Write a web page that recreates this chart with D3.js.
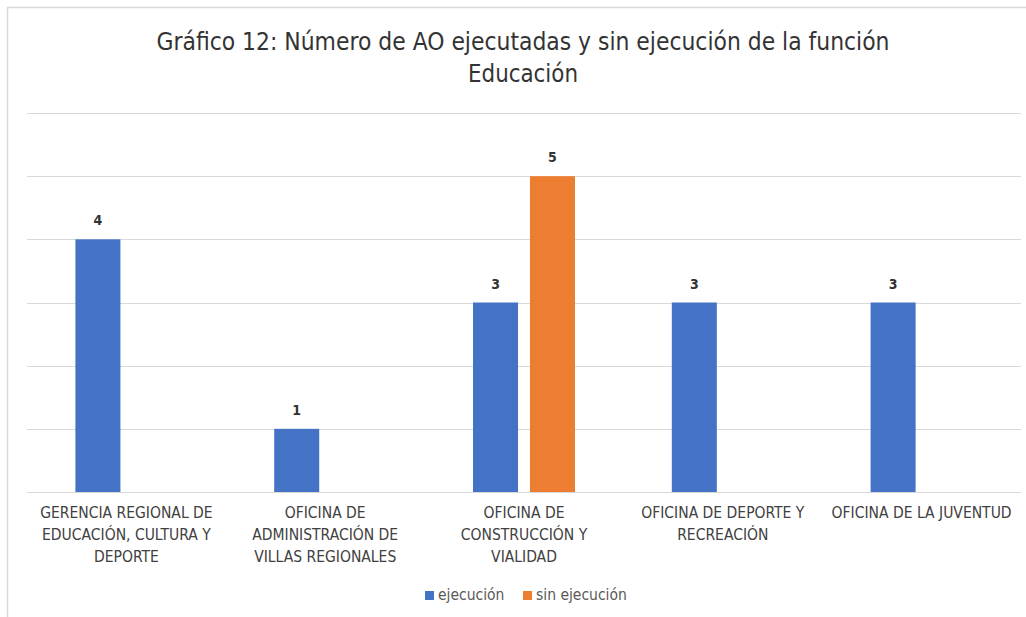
<!DOCTYPE html>
<html>
<head>
<meta charset="utf-8">
<script src="https://cdn.jsdelivr.net/npm/d3@7"></script>
<style>
  body { margin: 0; background: #fff; }
  svg { display: block; }
</style>
</head>
<body>
<div id="chart"></div>
<script>
// Data
const categories = [
  ["GERENCIA REGIONAL DE", "EDUCACIÓN, CULTURA Y", "DEPORTE"],
  ["OFICINA DE", "ADMINISTRACIÓN DE", "VILLAS REGIONALES"],
  ["OFICINA DE", "CONSTRUCCIÓN Y", "VIALIDAD"],
  ["OFICINA DE DEPORTE Y", "RECREACIÓN"],
  ["OFICINA DE LA JUVENTUD"]
];
const ejecucion = [4, 1, 3, 3, 3];
const sinEjecucion = [null, null, 5, null, null];
const seriesNames = ["ejecución", "sin ejecución"];
const colors = ["#4472C4", "#ED7D31"];
const titleLines = ["Gráfico 12: Número de AO ejecutadas y sin ejecución de la función", "Educación"];

const width = 1026, height = 617;
const margin = { top: 113, right: 5, bottom: 125, left: 27 };
const font = "'Liberation Sans Narrow', 'DejaVu Sans Condensed', Calibri, sans-serif";

const svg = d3.select("#chart").append("svg")
  .attr("width", width)
  .attr("height", height);

// chart frame (only left/top edge visible in the picture)
svg.append("path")
  .attr("d", `M7.5,${height} V7.5 H${width}`)
  .attr("fill", "none")
  .attr("stroke", "#d9d9d9")
  .attr("stroke-width", 1.5);

// Title
svg.append("g")
  .attr("text-anchor", "middle")
  .style("font-family", font)
  .style("font-size", "24px")
  .attr("fill", "#333")
  .selectAll("text")
  .data(titleLines)
  .join("text")
    .attr("x", 523)
    .attr("y", (d, i) => 50 + i * 32)
    .attr("textLength", (d, i) => i === 0 ? 733 : 110)
    .attr("lengthAdjust", "spacingAndGlyphs")
    .text(d => d);

const x0 = d3.scaleBand()
  .domain(d3.range(categories.length))
  .range([margin.left, width - margin.right])
  .paddingInner(0)
  .paddingOuter(0);

const x1 = d3.scaleBand()
  .domain([0, 1])
  .range([x0.bandwidth() / 2 - 51, x0.bandwidth() / 2 + 51])
  .paddingInner(0.21);

const y = d3.scaleLinear()
  .domain([0, 6])
  .range([height - margin.bottom, margin.top]);

// Gridlines
svg.append("g")
  .selectAll("line")
  .data(y.ticks(6))
  .join("line")
    .attr("x1", margin.left)
    .attr("x2", width - margin.right)
    .attr("y1", d => Math.round(y(d)) + 0.5)
    .attr("y2", d => Math.round(y(d)) + 0.5)
    .attr("stroke", "#d9d9d9")
    .attr("stroke-width", 1.2);

// Bars
const barData = [];
categories.forEach((c, i) => {
  [ejecucion[i], sinEjecucion[i]].forEach((v, s) => {
    if (v != null) barData.push({ cat: i, s, v });
  });
});

svg.append("g")
  .selectAll("rect")
  .data(barData)
  .join("rect")
    .attr("x", d => x0(d.cat) + x1(d.s))
    .attr("y", d => y(d.v))
    .attr("width", x1.bandwidth())
    .attr("height", d => y(0) - y(d.v))
    .attr("fill", d => colors[d.s]);

// Value labels
svg.append("g")
  .attr("text-anchor", "middle")
  .style("font-family", font)
  .style("font-size", "14px")
  .style("font-weight", "bold")
  .attr("fill", "#333")
  .selectAll("text")
  .data(barData)
  .join("text")
    .attr("x", d => x0(d.cat) + x1(d.s) + x1.bandwidth() / 2)
    .attr("y", d => y(d.v) - 14)
    .text(d => d.v);

// Category labels
const catG = svg.append("g")
  .attr("text-anchor", "middle")
  .style("font-family", font)
  .style("font-size", "15.5px")
  .attr("fill", "#404040");

catG.selectAll("text")
  .data(categories)
  .join("text")
    .attr("transform", (d, i) => `translate(${x0(i) + x0.bandwidth() / 2},${y(0) + 26})`)
    .selectAll("tspan")
    .data(d => d)
    .join("tspan")
      .attr("x", 0)
      .attr("y", (d, i) => i * 22)
      .text(d => d);

// Legend
const legend = svg.append("g")
  .style("font-family", font)
  .style("font-size", "15.5px")
  .attr("fill", "#595959");

const legendX = [425, 523];
seriesNames.forEach((name, i) => {
  legend.append("rect")
    .attr("x", legendX[i])
    .attr("y", 591)
    .attr("width", 9)
    .attr("height", 9)
    .attr("fill", colors[i]);
  legend.append("text")
    .attr("x", legendX[i] + 13)
    .attr("y", 600)
    .text(name);
});
</script>
</body>
</html>
